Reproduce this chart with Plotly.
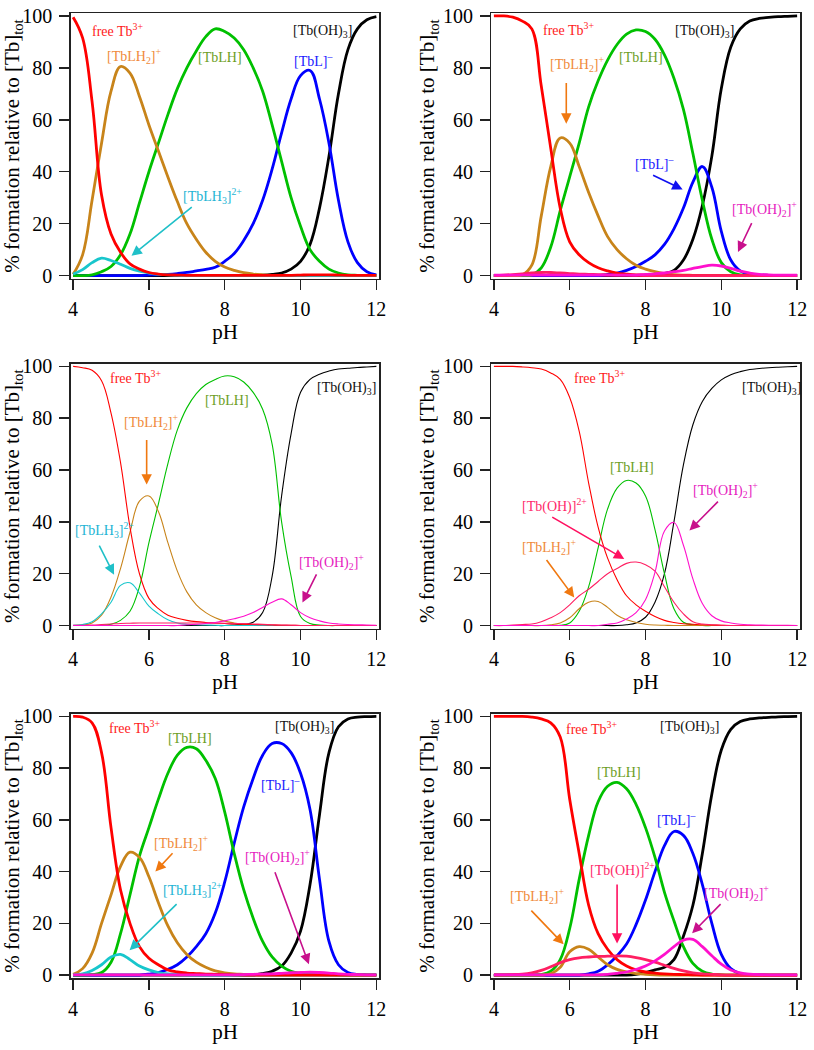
import plotly.graph_objects as go

# ---------------- data ----------------
PH = [4.0, 4.25, 4.5, 4.75, 5.0, 5.25, 5.5, 5.75, 6.0, 6.25, 6.5, 6.75, 7.0, 7.25, 7.5, 7.75,
      8.0, 8.25, 8.5, 8.75, 9.0, 9.25, 9.5, 9.75, 10.0, 10.25, 10.5, 10.75, 11.0, 11.25, 11.5, 11.75, 12.0]
X_TICKS = [4, 6, 8, 10, 12]
Y_TICKS = [0, 20, 40, 60, 80, 100]

# panel A (top left)
A_FREE = [99.5, 91.5, 67, 31, 16, 9, 4.5, 2.5, 1.2, 0.6, 0.3, 0.2, 0.1, 0.1, 0.1, 0.1, 0.1, 0.1, 0.1, 0.1, 0.1, 0.1, 0.1, 0.1, 0.2, 0.3, 0.3, 0.3, 0.2, 0.1, 0.1, 0.1, 0.1]
A_TBLH2 = [0.5, 8, 29, 51, 71, 80.5, 78, 69, 58, 48, 38, 28.5, 20, 14, 9, 5.5, 3.3, 2, 1.1, 0.6, 0.3, 0.1, 0, 0, 0, 0, 0, 0, 0, 0, 0, 0, 0]
A_TBLH3 = [0.6, 2.3, 5, 6.7, 5.8, 4.4, 2.8, 1.7, 1, 0.5, 0.3, 0.1, 0, 0, 0, 0, 0, 0, 0, 0, 0, 0, 0, 0, 0, 0, 0, 0, 0, 0, 0, 0, 0]
A_TBLH = [0, 0, 0.3, 1.5, 3.5, 8, 16, 28, 40, 51, 62, 72, 80, 86.5, 92, 95, 94, 91.5, 87, 80, 71, 58, 44, 30, 19, 10, 5.5, 2.5, 1, 0.3, 0.1, 0, 0]
A_TBL = [0, 0, 0, 0, 0, 0, 0, 0, 0.2, 0.3, 0.5, 0.8, 1.2, 1.8, 2.4, 3.2, 5.5, 8.5, 13.5, 20, 29, 41, 55, 68, 77, 79, 68, 51, 29, 13, 5, 1.5, 0.3]
A_TBOH3 = [0, 0, 0, 0, 0, 0, 0, 0, 0, 0, 0, 0, 0, 0, 0, 0, 0, 0.05, 0.1, 0.1, 0.2, 0.5, 1, 2.5, 5.5, 12, 26, 46, 70, 87, 95, 98.5, 99.7]

# panel B (top right)
B_FREE = [100, 100, 99.5, 98, 95, 73, 49, 26, 13, 8, 5, 3, 1.8, 1, 0.6, 0.3, 0.2, 0.1, 0.1, 0, 0, 0, 0, 0, 0, 0, 0, 0, 0, 0, 0, 0, 0]
B_TBLH2 = [0, 0, 0, 0.3, 4, 23, 42, 53, 51, 42, 32, 23, 15, 10, 6.5, 4, 2.5, 1.5, 0.8, 0.4, 0.2, 0.1, 0, 0, 0, 0, 0, 0, 0, 0, 0, 0, 0]
B_TBLH = [0, 0, 0, 0, 0.3, 3, 11, 25, 38, 51, 65, 75, 83, 89, 93, 94.6, 94, 91, 85, 76, 64, 47, 29, 14, 5, 1.5, 0.3, 0.1, 0, 0, 0, 0, 0]
B_TBL = [0, 0, 0, 0, 0, 0, 0, 0, 0, 0, 0, 0, 0.5, 1, 2, 3.5, 5.5, 8, 12, 18, 26, 36, 42, 34, 17, 6, 1.8, 0.5, 0.2, 0.1, 0, 0, 0]
B_TBOH3 = [0, 0, 0, 0, 0, 0, 0, 0, 0, 0, 0, 0, 0, 0, 0, 0, 0.2, 0.4, 0.8, 2, 6, 14, 27, 46, 72, 88, 95, 98, 99, 99.4, 99.7, 99.85, 100]
B_TBOH = [0.1, 0.2, 0.4, 0.7, 1.0, 1.2, 1.2, 1.0, 0.8, 0.6, 0.5, 0.4, 0.3, 0.2, 0.2, 0.1, 0, 0, 0, 0, 0, 0, 0, 0, 0, 0, 0, 0, 0, 0, 0, 0, 0]
B_TBOH2 = [0.2, 0.2, 0.2, 0.2, 0.2, 0.2, 0.2, 0.2, 0.2, 0.2, 0.2, 0.2, 0.2, 0.2, 0.2, 0.2, 0.5, 0.7, 1, 1.5, 2, 2.8, 3.5, 4, 3.7, 2.8, 1.7, 1, 0.5, 0.3, 0.2, 0.2, 0.2]

# panel C (middle left)
C_FREE = [100, 99.5, 98.5, 94.5, 82, 63, 38, 20, 10.5, 6.5, 4, 2.8, 2, 1.5, 1.2, 1, 0.8, 0.6, 0.5, 0.4, 0.3, 0.2, 0.1, 0.1, 0, 0, 0, 0, 0, 0, 0, 0, 0]
C_TBLH2 = [0, 0.2, 1, 4, 11, 22, 36, 48, 50, 44, 32, 21, 13, 8, 5, 3, 1.7, 1, 0.5, 0.3, 0.2, 0.1, 0, 0, 0, 0, 0, 0, 0, 0, 0, 0, 0]
C_TBLH3 = [0.1, 0.4, 1.5, 4.5, 9, 15.5, 16.5, 12.5, 7.5, 4.5, 2.2, 1, 0.5, 0.3, 0.2, 0.1, 0, 0, 0, 0, 0, 0, 0, 0, 0, 0, 0, 0, 0, 0, 0, 0, 0]
C_TBLH = [0, 0, 0, 0.1, 0.5, 2, 5.5, 15, 32, 47, 62.5, 75.5, 84, 89.5, 93, 95, 96.3, 96, 94, 90, 83.5, 70, 40, 19, 3.5, 0.8, 0.2, 0, 0, 0, 0, 0, 0]
C_TBOH3 = [0, 0, 0, 0, 0, 0, 0, 0, 0, 0, 0, 0, 0, 0, 0, 0, 0, 0.2, 0.5, 1.3, 5, 19, 50, 74, 90, 95, 97, 98.2, 99, 99.3, 99.6, 99.8, 100]
C_TBOH = [0.1, 0.1, 0.2, 0.4, 0.6, 0.8, 0.9, 1, 1, 1, 1, 1, 1, 1, 1, 0.9, 0.9, 0.8, 0.8, 0.6, 0.5, 0.3, 0.2, 0.1, 0, 0, 0, 0, 0, 0, 0, 0, 0]
C_TBOH2 = [0, 0, 0, 0, 0, 0, 0, 0, 0, 0, 0, 0, 0.3, 0.5, 0.8, 1.2, 1.8, 2.6, 3.6, 5, 7, 9, 10.3, 8, 5, 3, 1.8, 1, 0.6, 0.4, 0.3, 0.2, 0.1]

# panel D (middle right)
D_FREE = [100, 100, 100, 99.8, 99.5, 99, 97.5, 95, 88, 75, 55, 38, 26, 17.7, 11.5, 8, 5.5, 3.5, 2, 1.2, 0.7, 0.5, 0.3, 0.2, 0.1, 0, 0, 0, 0, 0, 0, 0, 0]
D_TBLH2 = [0, 0, 0, 0, 0, 0, 0.3, 1, 3, 6.5, 9, 9.3, 7, 4, 2.2, 1.2, 0.5, 0.2, 0.1, 0, 0, 0, 0, 0, 0, 0, 0, 0, 0, 0, 0, 0, 0]
D_TBLH = [0, 0, 0, 0, 0, 0, 0, 0.1, 1, 5.5, 15, 30, 45, 53, 56, 55, 50, 37, 20, 6.5, 1.3, 0.3, 0, 0, 0, 0, 0, 0, 0, 0, 0, 0, 0]
D_TBOH = [0, 0, 0.2, 0.4, 0.6, 1.5, 3, 5, 8, 11.5, 14, 17, 20, 22, 24, 24.5, 23.5, 21, 15, 9, 4.5, 1.5, 0.6, 0.3, 0.1, 0, 0, 0, 0, 0, 0, 0, 0]
D_TBOH2 = [0, 0, 0, 0, 0, 0, 0, 0, 0, 0, 0, 0, 0.5, 1, 2.5, 5, 10, 20.5, 36.5, 39.8, 31, 18, 8.5, 3.8, 1.8, 1, 0.5, 0.3, 0.2, 0.1, 0.1, 0.1, 0]
D_TBOH3 = [0, 0, 0, 0, 0, 0, 0, 0, 0, 0, 0, 0, 0, 0, 0.3, 1, 3.2, 9, 20, 40, 62, 77.5, 86.5, 91.5, 94.8, 96.8, 98, 98.8, 99.2, 99.5, 99.7, 99.85, 100]

# panel E (bottom left)
E_FREE = [100, 99.7, 97.5, 86, 57, 33, 20, 11, 6.5, 4, 2, 1.2, 0.8, 0.6, 0.4, 0.3, 0.2, 0.1, 0, 0, 0, 0, 0, 0, 0, 0, 0, 0, 0, 0, 0, 0, 0]
E_TBLH2 = [0.3, 2.5, 8.5, 20, 31, 42, 47.5, 45.5, 38, 28, 19, 12.5, 8, 5, 3, 1.6, 0.9, 0.5, 0.3, 0.1, 0, 0, 0, 0, 0, 0, 0, 0, 0, 0, 0, 0, 0]
E_TBLH3 = [0.1, 0.5, 1.8, 4, 7, 8, 6, 3.5, 2, 1, 0.5, 0.3, 0.1, 0, 0, 0, 0, 0, 0, 0, 0, 0, 0, 0, 0, 0, 0, 0, 0, 0, 0, 0, 0]
E_TBLH = [0, 0, 0.2, 1, 5, 16, 31, 46, 57, 68, 78, 85, 88, 87.5, 83, 76, 63, 47, 33, 22, 13, 7, 3.5, 1.5, 0.7, 0.4, 0.2, 0.1, 0, 0, 0, 0, 0]
E_TBL = [0, 0, 0, 0, 0, 0, 0, 0, 0.4, 1, 2.2, 4, 7, 11, 16, 24, 36, 51, 65, 76, 85, 89.5, 89.5, 86, 78, 64, 37, 13, 4, 1, 0.3, 0.1, 0.05]
E_TBOH3 = [0, 0, 0, 0, 0, 0, 0, 0, 0, 0, 0, 0, 0, 0, 0, 0, 0, 0, 0, 0, 0.6, 1.5, 3.5, 8.5, 17, 35, 62, 86, 96, 99, 99.7, 99.9, 100]
E_TBOH2 = [0.1, 0.1, 0.1, 0.1, 0.1, 0.1, 0.1, 0.1, 0.1, 0.1, 0.1, 0.1, 0.1, 0.1, 0.1, 0.1, 0.1, 0.1, 0.2, 0.3, 0.4, 0.5, 0.7, 0.9, 1.0, 1.1, 1.0, 0.8, 0.5, 0.3, 0.2, 0.1, 0.1]

# panel F (bottom right)
F_FREE = [100, 100, 100, 100, 99.7, 99, 97.5, 92, 68, 47, 27, 16, 10, 6, 3.5, 2, 1.2, 0.8, 0.5, 0.3, 0.2, 0.1, 0, 0, 0, 0, 0, 0, 0, 0, 0, 0, 0]
F_TBLH2 = [0, 0, 0, 0, 0, 0, 0.5, 3, 9, 11, 10, 7, 4, 2.2, 1.2, 0.6, 0.3, 0.1, 0, 0, 0, 0, 0, 0, 0, 0, 0, 0, 0, 0, 0, 0, 0]
F_TBLH = [0, 0, 0, 0, 0, 0.2, 1.5, 6, 18, 37, 54, 67, 73, 74.5, 72, 66, 57, 45.5, 32, 21, 11, 4.5, 1.5, 0.4, 0.1, 0, 0, 0, 0, 0, 0, 0, 0]
F_TBL = [0, 0, 0, 0, 0, 0, 0, 0, 0, 0, 0.5, 1.5, 4, 7.5, 12, 19.5, 29, 40, 50, 55.5, 54, 47, 35, 20, 8, 2.5, 0.6, 0.2, 0.1, 0, 0, 0, 0]
F_TBOH3 = [0, 0, 0, 0, 0, 0, 0, 0, 0, 0, 0, 0, 0, 0, 0, 0.3, 1, 2, 3, 6, 15, 27, 47, 70, 87, 95, 98, 99, 99.4, 99.6, 99.8, 99.9, 100]
F_TBOH = [0.1, 0.1, 0.2, 0.4, 0.9, 1.8, 3.2, 4.8, 6, 6.7, 7, 7.2, 7.3, 7.4, 7.3, 6.8, 6, 5, 3.8, 2.6, 1.6, 0.9, 0.5, 0.3, 0.1, 0, 0, 0, 0, 0, 0, 0, 0]
F_TBOH2 = [0.1, 0.1, 0.1, 0.1, 0.1, 0.1, 0.1, 0.1, 0.1, 0.1, 0.1, 0.1, 0.3, 0.7, 1.2, 2.2, 3.5, 5.5, 8, 11, 13.5, 13.8, 11, 7.5, 4.2, 2, 0.9, 0.4, 0.2, 0.1, 0.1, 0.1, 0.1]

# ---------------- styles ----------------
CURVE_COL = {
    "tboh3": "#000000", "tbl": "#0000ff", "tblh": "#00c000", "tblh2": "#c8841a",
    "tblh3": "#18c6cc", "free": "#ff0000", "tboh": "#ff1f62", "tboh2": "#ff10cc",
}
LABEL_COL = {
    "free": "#ff1a1a", "tblh2": "#f08a3a", "tblh": "#6c9e1e", "tboh3": "#111111",
    "tbl": "#1a1aff", "tblh3": "#22b4d4", "tboh2": "#e61cc0", "tboh": "#ff2a6a",
}
ARROW_COL = {"tblh2": "#f07810", "tbl": "#1010f0", "tblh3": "#20c0c8", "tboh2": "#c8108c", "tboh": "#ff1060"}
TEXT = {
    "free": "free Tb<sup>3+</sup>",
    "tblh2": "[TbLH<sub>2</sub>]<sup>+</sup>",
    "tblh": "[TbLH]",
    "tboh3": "[Tb(OH)<sub>3</sub>]",
    "tbl": "[TbL]<sup>\u2013</sup>",
    "tblh3": "[TbLH<sub>3</sub>]<sup>2+</sup>",
    "tboh2": "[Tb(OH)<sub>2</sub>]<sup>+</sup>",
    "tboh": "[Tb(OH)]<sup>2+</sup>",
}

PANELS = [
    dict(width=2.8, series=[("tboh3", A_TBOH3), ("tbl", A_TBL), ("tblh", A_TBLH), ("tblh2", A_TBLH2), ("tblh3", A_TBLH3), ("free", A_FREE)],
         labels=[("free", 4.45, 94.5), ("tblh2", 4.84, 84.5), ("tblh", 7.23, 84), ("tboh3", 9.75, 94), ("tbl", 9.78, 83), ("tblh3", 6.84, 30.6)],
         arrows=[("tblh3", 7.17, 26.8, 5.54, 7.6)]),
    dict(width=2.8, series=[("tboh3", B_TBOH3), ("tbl", B_TBL), ("tblh", B_TBLH), ("tblh2", B_TBLH2), ("free", B_FREE), ("tboh", B_TBOH), ("tboh2", B_TBOH2)],
         labels=[("free", 5.24, 95), ("tblh2", 5.43, 81.5), ("tblh", 7.25, 84), ("tboh3", 8.72, 94), ("tbl", 7.68, 43.3), ("tboh2", 10.22, 25.6)],
         arrows=[("tblh2", 5.91, 74.7, 5.91, 58.5), ("tbl", 8.16, 38.9, 8.98, 33.2), ("tboh2", 10.82, 20.8, 10.44, 9.1)]),
    dict(width=1.1, series=[("tboh3", C_TBOH3), ("tblh", C_TBLH), ("tblh2", C_TBLH2), ("tblh3", C_TBLH3), ("free", C_FREE), ("tboh", C_TBOH), ("tboh2", C_TBOH2)],
         labels=[("free", 4.93, 96), ("tblh", 7.42, 86.7), ("tboh3", 10.38, 91.4), ("tblh2", 5.28, 78.5), ("tblh3", 4.0, 36.7), ("tboh2", 9.9, 24.7)],
         arrows=[("tblh2", 5.94, 72.2, 5.94, 54.4), ("tblh3", 4.67, 31.4, 5.08, 19.6), ("tboh2", 10.44, 20.3, 10.05, 8.9)]),
    dict(width=1.1, series=[("tboh3", D_TBOH3), ("tblh", D_TBLH), ("tblh2", D_TBLH2), ("free", D_FREE), ("tboh", D_TBOH), ("tboh2", D_TBOH2)],
         labels=[("free", 6.05, 96), ("tboh3", 10.5, 91.4), ("tblh", 7.0, 61), ("tboh2", 9.2, 52.2), ("tboh", 4.69, 46.2), ("tblh2", 4.69, 30.4)],
         arrows=[("tboh2", 9.95, 48.4, 9.16, 36.7), ("tboh", 5.5, 42.2, 7.44, 25.7), ("tblh2", 5.36, 25.9, 6.12, 10.8)]),
    dict(width=2.8, series=[("tboh3", E_TBOH3), ("tbl", E_TBL), ("tblh", E_TBLH), ("tblh2", E_TBLH2), ("tblh3", E_TBLH3), ("free", E_FREE), ("tboh2", E_TBOH2)],
         labels=[("free", 4.89, 96), ("tblh", 6.46, 91.4), ("tboh3", 9.27, 95.6), ("tbl", 8.9, 74), ("tblh2", 6.07, 51), ("tblh3", 6.32, 32.8), ("tboh2", 8.47, 45.8)],
         arrows=[("tblh2", 6.66, 47.7, 6.17, 40), ("tblh3", 6.77, 28, 5.49, 9.6), ("tboh2", 9.31, 40.3, 10.22, 4.2)]),
    dict(width=2.8, series=[("tboh3", F_TBOH3), ("tbl", F_TBL), ("tblh", F_TBLH), ("tblh2", F_TBLH2), ("free", F_FREE), ("tboh", F_TBOH), ("tboh2", F_TBOH2)],
         labels=[("free", 5.86, 95.6), ("tboh3", 8.33, 95.6), ("tblh", 6.66, 78.3), ("tbl", 8.25, 60.3), ("tboh", 6.49, 40.7), ("tblh2", 4.36, 30.4), ("tboh2", 9.49, 31.8)],
         arrows=[("tboh", 7.25, 35.6, 7.25, 12.2), ("tblh2", 4.95, 25.5, 5.84, 11.9), ("tboh2", 10.02, 28, 9.23, 16.2)]),
]

W, H = 814, 1050
COLS = [(68.5, 381.0), (494.5, 807.0)]          # frame left/right in px
ROWS = [(4.5, 274.0), (360.8, 629.7), (716.5, 985.0)]  # frame top/bottom in px
XR = [3.935, 12.078]
YR = [-1.14, 100.95]
FONT = "Liberation Serif"

fig = go.Figure()
layout = dict(width=W, height=H, margin=dict(l=0, r=0, t=0, b=0, pad=0),
              paper_bgcolor="white", plot_bgcolor="white", showlegend=False,
              font=dict(family=FONT, size=20, color="black"))
annotations = []

for k, p in enumerate(PANELS):
    r, c = divmod(k, 2)
    n = "" if k == 0 else str(k + 1)
    xa, ya = "x" + n, "y" + n
    for key, vals in p["series"]:
        fig.add_trace(go.Scatter(x=PH, y=vals, mode="lines", xaxis=xa, yaxis=ya,
                                 line=dict(color=CURVE_COL[key], width=p["width"], shape="spline", smoothing=1.1),
                                 hoverinfo="skip"))
    l, rr = COLS[c]
    t, b = ROWS[r]
    common = dict(showline=True, linecolor="#222222", linewidth=1.5, mirror=True,
                  ticks="outside", ticklen=10, tickwidth=1.5, tickcolor="#222222",
                  showgrid=False, zeroline=False, ticklabeloverflow="allow",
                  tickfont=dict(family=FONT, size=20, color="black"))
    layout["xaxis" + n] = dict(common, domain=[l / W, rr / W], range=XR, anchor=ya,
                               tickvals=X_TICKS, ticklabelstandoff=2,
                               title=dict(text="pH", font=dict(family=FONT, size=21), standoff=0))
    layout["yaxis" + n] = dict(common, domain=[1 - b / H, 1 - t / H], range=YR, anchor=xa,
                               tickvals=Y_TICKS, ticklabelstandoff=3,
                               title=dict(text="% formation relative to [Tb]<sub>tot</sub>",
                                          font=dict(family=FONT, size=21), standoff=2))
    for key, x, y in p["labels"]:
        annotations.append(dict(xref=xa, yref=ya, x=x, y=y, text=TEXT[key], showarrow=False,
                                xanchor="left", yanchor="middle",
                                font=dict(family=FONT, size=14, color=LABEL_COL[key])))
    for key, x0, y0, x1, y1 in p["arrows"]:
        annotations.append(dict(xref=xa, yref=ya, axref=xa, ayref=ya, x=x1, y=y1, ax=x0, ay=y0,
                                text="", showarrow=True, arrowhead=2, arrowsize=1.3, arrowwidth=1.6,
                                arrowcolor=ARROW_COL[key], standoff=0, startstandoff=0,
                                font=dict(size=1)))

layout["annotations"] = annotations
fig.update_layout(**layout)
fig.write_html("out.html", config={"displayModeBar": False, "staticPlot": True},
               post_script="document.body.style.margin='0';document.body.style.padding='0';")
